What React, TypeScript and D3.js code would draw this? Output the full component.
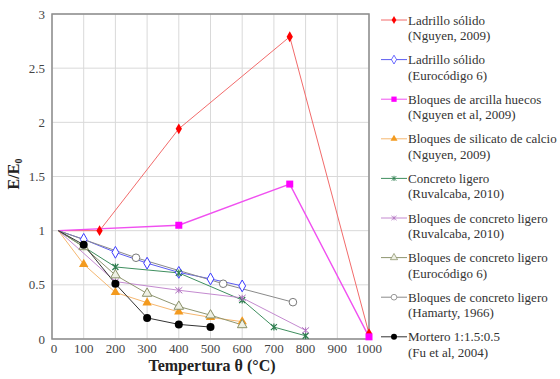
import React from 'react';
import * as d3 from 'd3';

// temperature (°C) and E/E0, one pair of arrays per series
const ladrilloNguyenT = [20, 150, 400, 750, 1000];
const ladrilloNguyenE = [1, 1, 1.94, 2.79, 0.05];
const ladrilloEcT = [20, 100, 200, 300, 400, 500, 600];
const ladrilloEcE = [1, 0.92, 0.8, 0.7, 0.615, 0.555, 0.49];
const arcillaT = [20, 400, 750, 1000];
const arcillaE = [1, 1.05, 1.43, 0.02];
const silicatoT = [20, 100, 200, 300, 400, 500, 600];
const silicatoE = [1, 0.69, 0.43, 0.335, 0.25, 0.2, 0.16];
const concretoT = [20, 200, 400, 600, 700, 800];
const concretoE = [1, 0.665, 0.61, 0.36, 0.11, 0.03];
const bloqRuvT = [20, 200, 400, 600, 800];
const bloqRuvE = [1, 0.53, 0.45, 0.38, 0.08];
const bloqEcT = [20, 100, 200, 300, 400, 500, 600];
const bloqEcE = [1, 0.85, 0.59, 0.42, 0.3, 0.22, 0.13];
const bloqHamT = [20, 265, 540, 760];
const bloqHamE = [1, 0.75, 0.51, 0.34];
const morteroT = [20, 100, 200, 300, 400, 500];
const morteroE = [1, 0.87, 0.51, 0.195, 0.135, 0.11];

const xTicks = [0, 100, 200, 300, 400, 500, 600, 700, 800, 900, 1000];
const yTicks = [0, 0.5, 1, 1.5, 2, 2.5, 3];

type Mark = 'diamond' | 'odiamond' | 'square' | 'triangle' | 'otriangle' | 'star' | 'cross' | 'ocircle' | 'circle';

const series: { name: string[]; t: number[]; e: number[]; line: string; mark: string; kind: Mark }[] = [
  { name: ['Ladrillo sólido', '(Nguyen, 2009)'], t: ladrilloNguyenT, e: ladrilloNguyenE, line: '#f26b6b', mark: '#ff0000', kind: 'diamond' },
  { name: ['Ladrillo sólido', '(Eurocódigo 6)'], t: ladrilloEcT, e: ladrilloEcE, line: '#5c5cf0', mark: '#3b3bff', kind: 'odiamond' },
  { name: ['Bloques de arcilla huecos', '(Nguyen et al, 2009)'], t: arcillaT, e: arcillaE, line: '#f050f0', mark: '#ff00ff', kind: 'square' },
  { name: ['Bloques de silicato de calcio', '(Nguyen, 2009)'], t: silicatoT, e: silicatoE, line: '#f5b770', mark: '#f39a1e', kind: 'triangle' },
  { name: ['Concreto ligero', '(Ruvalcaba, 2010)'], t: concretoT, e: concretoE, line: '#3f8f5f', mark: '#2e7d4f', kind: 'star' },
  { name: ['Bloques de concreto ligero', '(Ruvalcaba, 2010)'], t: bloqRuvT, e: bloqRuvE, line: '#c48ad0', mark: '#b070c0', kind: 'cross' },
  { name: ['Bloques de concreto ligero', '(Eurocódigo 6)'], t: bloqEcT, e: bloqEcE, line: '#8f9670', mark: '#8a9068', kind: 'otriangle' },
  { name: ['Bloques de concreto ligero', '(Hamarty, 1966)'], t: bloqHamT, e: bloqHamE, line: '#8a8a8a', mark: '#7a7a7a', kind: 'ocircle' },
  { name: ['Mortero 1:1.5:0.5', '(Fu et al, 2004)'], t: morteroT, e: morteroE, line: '#333333', mark: '#000000', kind: 'circle' },
];

const W = 560, H = 379;
const m = { left: 52, top: 14, right: 369, bottom: 339 };
const font = '"Liberation Serif", "Times New Roman", serif';

const x = d3.scaleLinear().domain([0, 1000]).range([m.left, m.right]);
const y = d3.scaleLinear().domain([0, 3]).range([m.bottom, m.top]);

function Marker({ kind, color, cx, cy, s = 1 }: { kind: Mark; color: string; cx: number; cy: number; s?: number }) {
  const tr = `translate(${cx},${cy}) scale(${s})`;
  const sym = (type: d3.SymbolType, size: number) => d3.symbol().type(type).size(size)()!;
  switch (kind) {
    case 'diamond':
      return <path transform={tr} d={sym(d3.symbolDiamond, 34)} fill={color} />;
    case 'odiamond':
      return <path transform={tr} d={sym(d3.symbolDiamond, 40)} fill="#fff" stroke={color} strokeWidth={1} />;
    case 'square':
      return <rect transform={tr} x={-3.5} y={-3.5} width={7} height={7} fill={color} />;
    case 'triangle':
      return <path transform={tr} d={sym(d3.symbolTriangle, 38)} fill={color} />;
    case 'otriangle':
      return <path transform={tr} d={sym(d3.symbolTriangle, 40)} fill="#eef0e4" stroke={color} strokeWidth={1} />;
    case 'star':
      return <path transform={tr} d="M-3,-3L3,3M-3,3L3,-3M0,-3.5L0,3.5" stroke={color} strokeWidth={1.2} />;
    case 'cross':
      return <path transform={tr} d="M-3.5,-3L3.5,3M-3.5,3L3.5,-3M0,-3L0,3" stroke={color} strokeWidth={1} />;
    case 'ocircle':
      return <circle transform={tr} r={3.8} fill="#fff" stroke={color} strokeWidth={1} />;
    case 'circle':
      return <circle transform={tr} r={4} fill={color} />;
  }
}

export default function App() {
  const line = d3.line<[number, number]>().x(d => x(d[0])).y(d => y(d[1]));
  const legX = 381, legY0 = 20, legStep = 39.6;

  return (
    <svg width={W} height={H} style={{ position: 'absolute', left: 0, top: 0, background: '#fff' }} fontFamily={font}>
      {/* grid */}
      {xTicks.map(t => (
        <line key={'gx' + t} x1={x(t)} x2={x(t)} y1={m.top} y2={m.bottom} stroke="#d9d9d9" strokeWidth={1} />
      ))}
      {yTicks.map(t => (
        <line key={'gy' + t} x1={m.left} x2={m.right} y1={y(t)} y2={y(t)} stroke="#d9d9d9" strokeWidth={1} />
      ))}
      <rect x={m.left} y={m.top} width={m.right - m.left} height={m.bottom - m.top} fill="none" stroke="#8c8c8c" strokeWidth={1.5} />

      {/* tick labels */}
      {xTicks.map(t => (
        <text key={'tx' + t} x={x(t) + (t === 0 ? 2 : 0)} y={353} fontSize={13} textAnchor="middle" fill="#444">{t}</text>
      ))}
      {yTicks.map(t => (
        <text key={'ty' + t} x={45} y={y(t) + 4.5} fontSize={13} textAnchor="end" fill="#444">{t}</text>
      ))}

      {/* axis titles */}
      <text x={212} y={371} fontSize={16} fontWeight="bold" textAnchor="middle" fill="#222">Tempertura θ (°C)</text>
      <text transform="translate(19,174) rotate(-90)" fontSize={16} fontWeight="bold" textAnchor="middle" fill="#222">
        E/E<tspan fontSize={10} dy={3}>0</tspan>
      </text>

      {/* series */}
      {series.map((s, i) => (
        <path key={'l' + i} d={line(s.t.map((t, j) => [t, s.e[j]] as [number, number]))!} fill="none" stroke={s.line} strokeWidth={i === 2 ? 1.4 : 1} />
      ))}
      {series.map((s, i) => (
        <g key={'m' + i}>
          {s.t.map((t, j) => j === 0 ? null : (
            <Marker key={j} kind={s.kind} color={s.mark} cx={x(t)} cy={y(s.e[j])} />
          ))}
        </g>
      ))}

      {/* legend */}
      {series.map((s, i) => {
        const cy = legY0 + i * legStep;
        return (
          <g key={'lg' + i}>
            <line x1={legX} x2={legX + 26} y1={cy} y2={cy} stroke={s.line} strokeWidth={1} />
            <Marker kind={s.kind} color={s.mark} cx={legX + 13} cy={cy} s={0.75} />
            <text x={408} y={cy + 4.5} fontSize={13} fill="#333">{s.name[0]}</text>
            <text x={408} y={cy + 20} fontSize={13} fill="#333">{s.name[1]}</text>
          </g>
        );
      })}
    </svg>
  );
}
